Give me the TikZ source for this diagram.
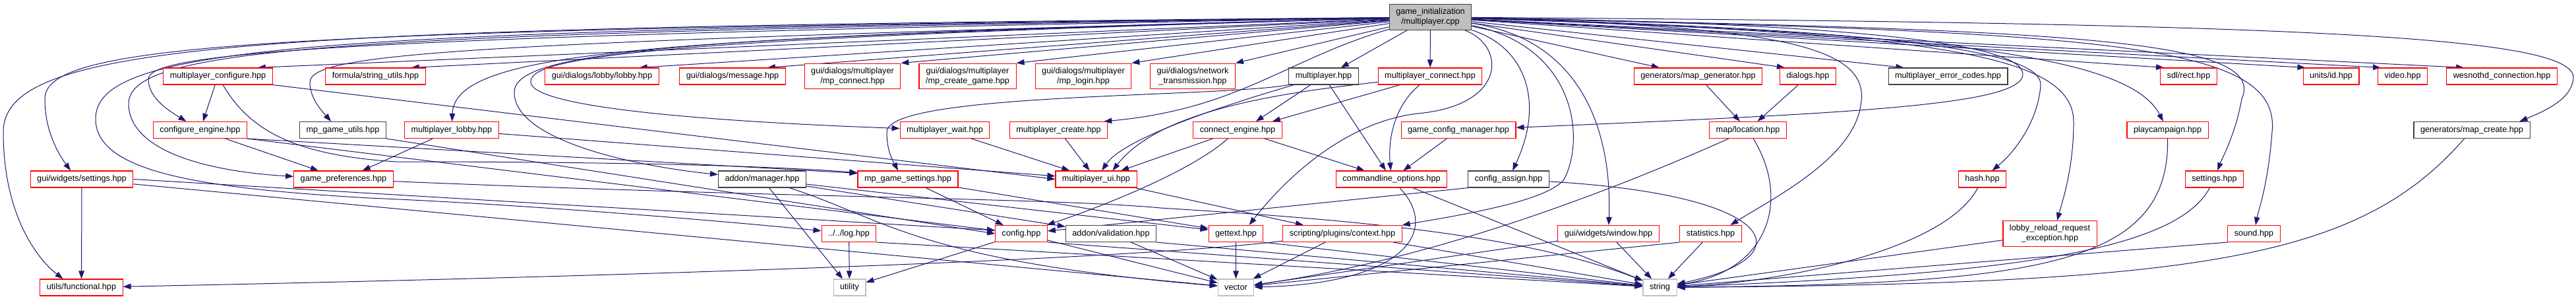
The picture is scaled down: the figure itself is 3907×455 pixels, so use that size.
\documentclass[tikz,border=0pt]{standalone}
\usepackage{fontspec}
\setmainfont{Liberation Sans}
\usepackage{tikz}
\usetikzlibrary{arrows.meta, backgrounds}
\definecolor{dxEdge}{HTML}{191970}
\definecolor{dxRed}{HTML}{FF0000}
\definecolor{dxGrey}{HTML}{BFBFBF}
\definecolor{dxDark}{HTML}{404040}

\begin{document}
\begin{tikzpicture}[
  x=1pt, y=-1pt,
  font=\fontsize{12.7}{15}\selectfont,
  hdr/.style={draw=dxRed, fill=white, line width=1.1pt, align=center,
              inner xsep=10pt, inner ysep=6pt, minimum height=25pt},
  hdrdoc/.style={hdr, draw=dxDark},
  stdhdr/.style={hdr, draw=dxGrey},
  rootfile/.style={hdr, draw=dxDark, fill=dxGrey},
  dep/.style={draw=dxEdge, line width=1pt, -{Triangle[length=12pt,width=8.5pt]}},
]
\useasboundingbox (0,0) rectangle (3907,455);

% ---------------- File being documented ----------------
\node[rootfile] (root) at (2169.5,26) {game\_initialization\\/multiplayer.cpp};

% ---------------- Row 1 ----------------
\node[hdr]    (mpconfigure)  at (330.5,115.5)  {multiplayer\_configure.hpp};
\node[hdr]    (strutils)     at (569.5,115.5)  {formula/string\_utils.hpp};
\node[hdr]    (lobby)        at (913,115.5)    {gui/dialogs/lobby/lobby.hpp};
\node[hdr]    (message)      at (1111,115.5)   {gui/dialogs/message.hpp};
\node[hdr]    (mpconnectdlg) at (1293,115.5)   {gui/dialogs/multiplayer\\/mp\_connect.hpp};
\node[hdr]    (mpcreategame) at (1467.5,115.5) {gui/dialogs/multiplayer\\/mp\_create\_game.hpp};
\node[hdr]    (mplogin)      at (1643,115.5)   {gui/dialogs/multiplayer\\/mp\_login.hpp};
\node[hdr]    (nettrans)     at (1809,115.5)   {gui/dialogs/network\\\_transmission.hpp};
\node[hdrdoc] (multiplayer)  at (2007.5,115.5) {multiplayer.hpp};
\node[hdr]    (mpconnect)    at (2169,115.5)   {multiplayer\_connect.hpp};
\node[hdr]    (mapgen)       at (2575.5,115.5) {generators/map\_generator.hpp};
\node[hdr]    (dialogs)      at (2742,115.5)   {dialogs.hpp};
\node[hdrdoc] (errcodes)     at (2954.5,115.5) {multiplayer\_error\_codes.hpp};
\node[hdr]    (sdlrect)      at (3319.5,115.5) {sdl/rect.hpp};
\node[hdr]    (unitsid)      at (3535.5,115.5) {units/id.hpp};
\node[hdr]    (video)        at (3644,115.5)   {video.hpp};
\node[hdr]    (wesnothd)     at (3794.5,115.5) {wesnothd\_connection.hpp};

% ---------------- Row 2 ----------------
\node[hdr]    (confengine)  at (303.5,197)  {configure\_engine.hpp};
\node[hdrdoc] (mpgameutils) at (520,197)    {mp\_game\_utils.hpp};
\node[hdr]    (mplobby)     at (685,197)    {multiplayer\_lobby.hpp};
\node[hdr]    (mpwait)      at (1433,197)   {multiplayer\_wait.hpp};
\node[hdr]    (mpcreate)    at (1605.5,197) {multiplayer\_create.hpp};
\node[hdr]    (connengine)  at (1877,197)   {connect\_engine.hpp};
\node[hdr]    (gcm)         at (2212,197)   {game\_config\_manager.hpp};
\node[hdr]    (maploc)      at (2651,197)   {map/location.hpp};
\node[hdr]    (playcamp)    at (3287.5,197) {playcampaign.hpp};
\node[hdrdoc] (mapcreate)   at (3749,197)   {generators/map\_create.hpp};

% ---------------- Row 3 ----------------
\node[hdr]    (guisettings)    at (124,271.5)    {gui/widgets/settings.hpp};
\node[hdr]    (gameprefs)      at (521,271.5)    {game\_preferences.hpp};
\node[hdrdoc] (addonmgr)       at (1156,271.5)   {addon/manager.hpp};
\node[hdr]    (mpgamesettings) at (1377,271.5)   {mp\_game\_settings.hpp};
\node[hdr]    (mpui)           at (1662.5,271.5) {multiplayer\_ui.hpp};
\node[hdr]    (cmdline)        at (2110.5,271.5) {commandline\_options.hpp};
\node[hdrdoc] (confassign)     at (2288,271.5)   {config\_assign.hpp};
\node[hdr]    (hash)           at (3006.5,271.5) {hash.hpp};
\node[hdr]    (settings)       at (3358.5,271.5) {settings.hpp};

% ---------------- Row 4 ----------------
\node[hdr]    (log)         at (1287.5,354) {../../log.hpp};
\node[hdr]    (config)      at (1549,354)   {config.hpp};
\node[hdrdoc] (addonvalid)  at (1685,354)   {addon/validation.hpp};
\node[hdr]    (gettext)     at (1874.5,354) {gettext.hpp};
\node[hdr]    (context)     at (2036,354)   {scripting/plugins/context.hpp};
\node[hdr]    (window)      at (2439.5,354) {gui/widgets/window.hpp};
\node[hdr]    (statistics)  at (2594.5,354) {statistics.hpp};
\node[hdr]    (lobbyreload) at (3109,354)   {lobby\_reload\_request\\\_exception.hpp};
\node[hdr]    (sound)       at (3418.5,354) {sound.hpp};

% ---------------- Row 5 ----------------
\node[hdr]    (functional) at (123.5,435.5)  {utils/functional.hpp};
\node[stdhdr] (utility)    at (1288.5,435.5) {utility};
\node[stdhdr] (vector)     at (1874.5,435.5) {vector};
\node[stdhdr] (string)     at (2517.5,435.5) {string};

\begin{scope}[on background layer]
\fill[white] (0,0) rectangle (3907,455);

% ---------------- Root: row 1, left ----------------
\draw[dep] (root) -- ([xshift=-23pt]mpconfigure.north east);
\draw[dep] (root) -- ([xshift=-22pt]strutils.north east);
\draw[dep] (root) -- ([xshift=-30pt]lobby.north east);
\draw[dep] (root) -- ([xshift=-28pt]message.north east);
\draw[dep] (root) -- (mpconnectdlg.north east);
\draw[dep] (root) -- (mpcreategame.north east);
\draw[dep] (root) -- (mplogin.north east);
\draw[dep] (root) -- (nettrans.north east);
\draw[dep] (root) -- ([xshift=-27pt]multiplayer.north east);
\draw[dep] (root) -- (mpconnect);

% ---------------- Root: row 1, right ----------------
\draw[dep] (root) -- ([xshift=39pt]mapgen.north west);
\draw[dep] (root) -- ([xshift=8pt]dialogs.north west);
\draw[dep] (root) -- ([xshift=24pt]errcodes.north west);
\draw[dep] (root) -- ([xshift=6pt]sdlrect.north west);
\draw[dep] (root) -- ([xshift=4pt]unitsid.north west);
\draw[dep] (root) -- ([xshift=5pt]video.north west);
\draw[dep] (root) -- ([xshift=27pt]wesnothd.north west);

% ---------------- Root: long curves on the left ----------------
\draw[dep] (root) .. controls (400,42) and (5,60) .. (5,200)
                  .. controls (5,330) and (60,395) .. ([xshift=-28pt]functional.north);
\draw[dep] (root) .. controls (400,45) and (68,65) .. (68,150)
                  .. controls (68,200) and (90,235) .. ([xshift=-17pt]guisettings.north);
\draw[dep] (root) .. controls (500,46) and (145,65) .. (145,180)
                  .. controls (145,260) and (300,285) .. (560,300)
                  .. controls (800,310) and (1100,335) .. (log);
\draw[dep] (root) .. controls (500,50) and (190,70) .. (195,160)
                  .. controls (200,240) and (350,262) .. (gameprefs);
\draw[dep] (root) .. controls (500,55) and (225,80) .. (225,120)
                  .. controls (225,150) and (260,170) .. ([xshift=-21pt]confengine.north);
\draw[dep] (root) .. controls (700,65) and (470,80) .. (470,125)
                  .. controls (470,150) and (490,170) .. ([xshift=-18pt]mpgameutils.north);
\draw[dep] (root) .. controls (1000,58) and (690,75) .. (mplobby);
\draw[dep] (root) .. controls (1000,55) and (780,80) .. (780,140)
                  .. controls (780,210) and (950,250) .. (addonmgr);
\draw[dep] (root) .. controls (1000,58) and (800,85) .. (805,125)
                  .. controls (810,165) and (1100,185) .. (mpwait);
\draw[dep] (root) .. controls (1950,90) and (1880,165) .. ([xshift=-6pt]mpcreate.north east);
\draw[dep] (root) .. controls (2285,70) and (2285,160) .. (2150,172)
                  .. controls (2040,185) and (1950,270) .. ([xshift=20pt]gettext.north);

% ---------------- Root: long curves on the right ----------------
\draw[dep] (root) .. controls (2800,35) and (3070,65) .. (3068,113)
                  .. controls (3066,160) and (2800,172) .. (gcm);
\draw[dep] (root) .. controls (2310,70) and (2345,150) .. (confassign);
\draw[dep] (root) .. controls (2390,70) and (2405,210) .. (2372,272)
                  .. controls (2345,305) and (2220,325) .. (context.north east);
\draw[dep] (root) .. controls (2400,60) and (2445,200) .. (window);
\draw[dep] (root) .. controls (2700,40) and (2840,70) .. (2822,160)
                  .. controls (2810,240) and (2690,300) .. ([xshift=30pt]statistics.north);
\draw[dep] (root) .. controls (2900,45) and (3100,80) .. (3095,130)
                  .. controls (3090,190) and (3050,235) .. ([xshift=15pt]hash.north);
\draw[dep] (root) .. controls (2950,50) and (3145,85) .. (3145,185)
                  .. controls (3145,255) and (3128,305) .. ([xshift=11pt]lobbyreload.north);
\draw[dep] (root) .. controls (2950,50) and (3230,85) .. (playcamp);
\draw[dep] (root) .. controls (3150,45) and (3440,60) .. (3400,150)
                  .. controls (3390,205) and (3370,240) .. (settings);
\draw[dep] (root) .. controls (3200,48) and (3460,65) .. (3446,200)
                  .. controls (3440,280) and (3425,320) .. (sound);
\draw[dep] (root) .. controls (3500,35) and (3905,55) .. (3903,118)
                  .. controls (3901,150) and (3860,168) .. ([xshift=-16pt]mapcreate.north east);

% ---------------- Game setup headers ----------------
\draw[dep] (mpconfigure) -- (confengine);
\draw[dep] (mpconfigure.south east) -- (mpui.west);
\draw[dep] (mpconfigure) .. controls (380,200) and (450,235) .. (600,245)
                         .. controls (900,245) and (1150,250) .. ([yshift=10pt]mpgamesettings.west);
\draw[dep] (confengine) -- (gameprefs);
\draw[dep] (confengine.south east) -- ([yshift=9pt]mpgamesettings.west);
\draw[dep] (confengine.south east) -- (config);
\draw[dep] (mpgameutils.south east) -- (config.west);
\draw[dep] (mplobby) -- (gameprefs);
\draw[dep] (mplobby) -- (mpui);
\draw[dep] (mpwait) -- (mpui);
\draw[dep] (mpcreate) -- (mpui);

% ---------------- Connect / lobby headers ----------------
\draw[dep] (multiplayer) -- ([xshift=-40pt]connengine.north east);
\draw[dep] (multiplayer) -- (cmdline);
\draw[dep] (multiplayer) .. controls (1820,170) and (1700,215) .. (mpui);
\draw[dep] (multiplayer.south west) .. controls (1850,148) and (1345,140) .. (1345,200)
                                    .. controls (1345,230) and (1355,245) .. ([xshift=-15pt]mpgamesettings.north);
\draw[dep] (mpconnect) -- ([xshift=-15pt]connengine.north east);
\draw[dep] (mpconnect) .. controls (2115,160) and (2105,210) .. (cmdline);
\draw[dep] (mpconnect) .. controls (1950,140) and (1760,165) .. ([xshift=25pt]mpui.north);
\draw[dep] (gcm) -- (cmdline);
\draw[dep] (connengine) -- (cmdline);
\draw[dep] (connengine) -- (mpui);
\draw[dep] (connengine) .. controls (1800,265) and (1650,320) .. (config);
\draw[dep] (mapgen) -- (maploc);
\draw[dep] (dialogs) -- (maploc);

% ---------------- Lower headers ----------------
\draw[dep] (guisettings) -- (functional);
\draw[dep] (guisettings.east) -- ([yshift=5pt]config.west);
\draw[dep] (guisettings) -- (vector);
\draw[dep] (gameprefs) .. controls (1200,300) and (1600,300) .. (1760,315)
                       .. controls (2000,330) and (2300,350) .. (string);
\draw[dep] (addonmgr) -- (utility);
\draw[dep] (addonmgr) -- (addonvalid);
\draw[dep] (addonmgr) -- ([yshift=6pt]gettext.west);
\draw[dep] (addonmgr) .. controls (1340,330) and (1390,395) .. (vector);
\draw[dep] (mpgamesettings) -- (config);
\draw[dep] (mpgamesettings) -- ([yshift=8pt]gettext.west);
\draw[dep] (mpui) -- (context);
\draw[dep] (confassign.south west) -- (config);
\draw[dep] (confassign) .. controls (2700,295) and (2740,390) .. (string);
\draw[dep] (cmdline) .. controls (2185,350) and (2130,430) .. (vector);
\draw[dep] (cmdline) -- (string);
\draw[dep] (maploc) .. controls (2420,300) and (2160,395) .. (vector);
\draw[dep] (maploc) .. controls (2715,300) and (2685,410) .. (string);
\draw[dep] (hash) .. controls (2950,380) and (2700,428) .. (string);
\draw[dep] (playcamp) .. controls (3290,400) and (3100,430) .. (string);
\draw[dep] (settings) .. controls (3300,380) and (3050,415) .. (string);
\draw[dep] (mapcreate) .. controls (3580,390) and (3350,430) .. (string);

% ---------------- Into the std headers ----------------
\draw[dep] (log) -- (utility);
\draw[dep] (log.south east) -- (string);
\draw[dep] (config) -- (utility);
\draw[dep] (config) -- (vector);
\draw[dep] (config.south east) -- (string);
\draw[dep] (addonvalid) -- (vector);
\draw[dep] (addonvalid.south east) -- (string);
\draw[dep] (gettext) -- (vector);
\draw[dep] (gettext.south east) -- (string);
\draw[dep] (context) -- (vector);
\draw[dep] (context) -- (string);
\draw[dep] (context) .. controls (1700,395) and (900,420) .. (functional);
\draw[dep] (window) -- (vector);
\draw[dep] (window) -- (string);
\draw[dep] (statistics.south west) -- (vector);
\draw[dep] (statistics) -- (string);
\draw[dep] (lobbyreload) -- (string);
\draw[dep] (sound.south west) -- (string);
\end{scope}
\end{tikzpicture}
\end{document}
